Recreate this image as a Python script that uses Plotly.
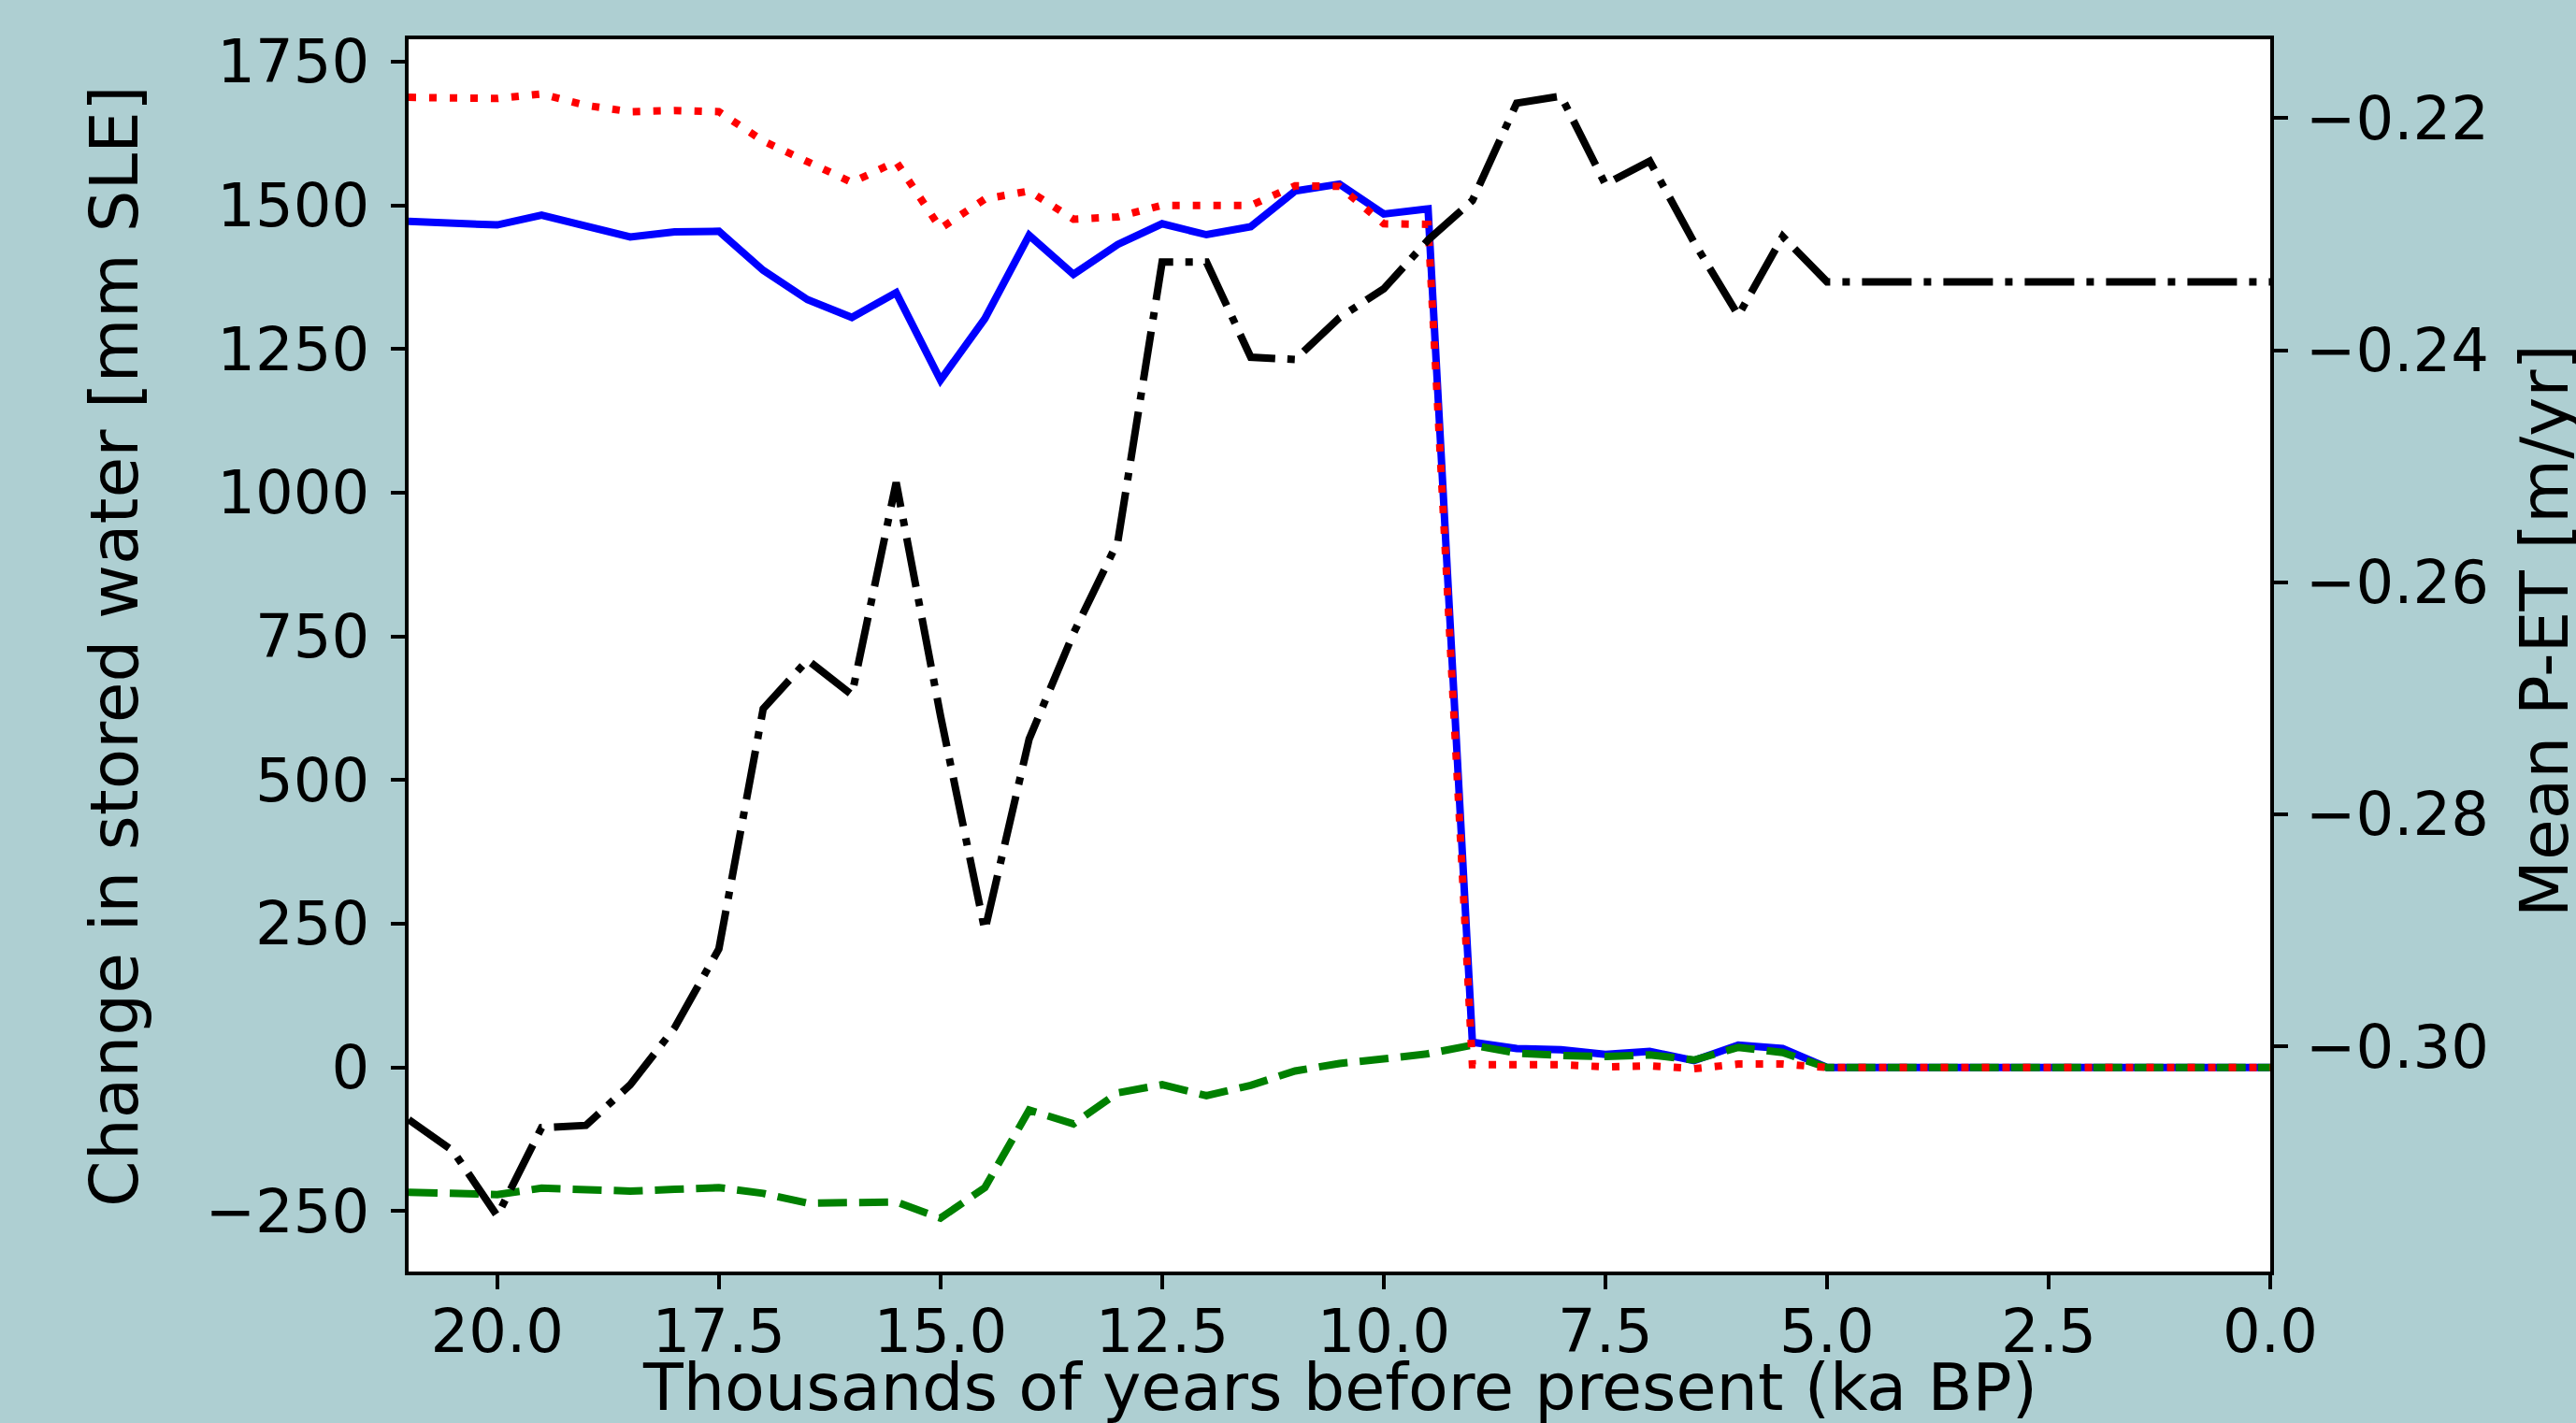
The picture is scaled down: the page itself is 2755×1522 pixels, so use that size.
import plotly.graph_objects as go

# ka BP, every 0.5 ka from 21 to 0
ka = [21.0, 20.5, 20.0, 19.5, 19.0, 18.5, 18.0, 17.5, 17.0, 16.5, 16.0, 15.5, 15.0,
      14.5, 14.0, 13.5, 13.0, 12.5, 12.0, 11.5, 11.0, 10.5, 10.0, 9.5, 9.0, 8.5,
      8.0, 7.5, 7.0, 6.5, 6.0, 5.5, 5.0, 4.5, 4.0, 3.5, 3.0, 2.5, 2.0, 1.5, 1.0,
      0.5, 0.0]

# Change in stored water [mm SLE]
blue_total = [1472, 1470, 1466, 1483, 1463, 1445, 1454, 1455, 1387, 1336, 1305, 1348, 1196,
              1303, 1448, 1380, 1432, 1468, 1449, 1463, 1525, 1537, 1485, 1494, 44, 33,
              31, 23, 28, 12, 39, 33, 0, 0, 0, 0, 0, 0, 0, 0, 0,
              0, 0]
green_dashed = [-217, -218, -221, -210, -211, -215, -212, -209, -219, -236, -235, -234, -262,
                -209, -74, -98, -44, -30, -49, -31, -6, 7, 15, 24, 39, 25,
                21, 19, 22, 13, 35, 26, 0, 0, 0, 0, 0, 0, 0, 0, 0,
                0, 0]
red_dotted = [1688, 1687, 1686, 1694, 1674, 1663, 1665, 1663, 1612, 1576, 1540, 1576, 1460,
              1511, 1525, 1476, 1480, 1500, 1500, 1500, 1534, 1533, 1468, 1467, 5, 5,
              5, 1, 3, -2, 6, 6, 0, 0, 0, 0, 0, 0, 0, 0, 0,
              0, 0]
# Mean P-ET [m/yr]
black_pet = [-0.3063, -0.3090, -0.3146, -0.3070, -0.3068, -0.3033, -0.2984, -0.2916, -0.2709,
             -0.2667, -0.2697, -0.2514, -0.2715, -0.2900, -0.2735, -0.2644, -0.2565, -0.2324,
             -0.2324, -0.2406, -0.2408, -0.2372, -0.2347, -0.2305, -0.2271, -0.2187, -0.2181,
             -0.2257, -0.2237, -0.2307, -0.2370, -0.2302, -0.2341, -0.2341, -0.2341, -0.2341,
             -0.2341, -0.2341, -0.2341, -0.2341, -0.2341, -0.2341, -0.2341]

x_ticks = [20.0, 17.5, 15.0, 12.5, 10.0, 7.5, 5.0, 2.5, 0.0]
y_ticks = [-250, 0, 250, 500, 750, 1000, 1250, 1500, 1750]
y2_ticks = [-0.30, -0.28, -0.26, -0.24, -0.22]

FONT = "DejaVu Sans"
LW = 8

fig = go.Figure()
fig.add_trace(go.Scatter(x=ka, y=blue_total, mode="lines",
                         line=dict(color="#0000ff", width=LW)))
fig.add_trace(go.Scatter(x=ka, y=green_dashed, mode="lines",
                         line=dict(color="#008000", width=LW, dash="31px,13px")))
fig.add_trace(go.Scatter(x=ka, y=red_dotted, mode="lines",
                         line=dict(color="#ff0000", width=LW, dash="8px,14px")))
fig.add_trace(go.Scatter(x=ka, y=black_pet, mode="lines", yaxis="y2",
                         line=dict(color="#000000", width=LW, dash="53px,13px,8px,13px")))

tickfont = dict(family=FONT, size=64, color="black")
fig.update_layout(
    width=2755, height=1522,
    paper_bgcolor="#aecfd2",
    plot_bgcolor="white",
    showlegend=False,
    margin=dict(l=437, r=327, t=42, b=162),
    font=dict(family=FONT, color="black"),
    xaxis=dict(range=[21, 0], tickvals=x_ticks, ticktext=[f"{v:.1f}" for v in x_ticks],
               showgrid=False, zeroline=False, showline=True, linecolor="black",
               linewidth=4, mirror=True, ticks="outside", ticklen=15, tickwidth=4,
               tickcolor="black", tickfont=tickfont, ticklabelstandoff=-10,
               automargin=False),
    yaxis=dict(range=[-355, 1789], tickvals=y_ticks,
               ticktext=[str(v).replace("-", "\u2212") for v in y_ticks],
               showgrid=False, zeroline=False, showline=True, linecolor="black",
               linewidth=4, mirror=True, ticks="outside", ticklen=15, tickwidth=4,
               tickcolor="black", tickfont=tickfont, ticklabelstandoff=10,
               automargin=False),
    yaxis2=dict(range=[-0.3194, -0.2132], tickvals=y2_ticks,
                ticktext=[f"{v:.2f}".replace("-", "\u2212") for v in y2_ticks],
                overlaying="y", side="right", showgrid=False, zeroline=False,
                showline=True, linecolor="black", linewidth=4,
                ticks="outside", ticklen=15, tickwidth=4, tickcolor="black",
                tickfont=tickfont, ticklabelstandoff=6, automargin=False),
    annotations=[
        dict(text="Thousands of years before present (ka BP)", xref="paper", yref="paper",
             x=0.5, y=-0.094, xanchor="center", yanchor="middle", showarrow=False,
             font=dict(family=FONT, size=70, color="black")),
        dict(text="Change in stored water [mm SLE]", xref="paper", yref="paper",
             x=-0.158, y=0.508, xanchor="center", yanchor="middle", showarrow=False,
             textangle=-90, font=dict(family=FONT, size=71, color="black")),
        dict(text="Mean P-ET [m/yr]", xref="paper", yref="paper",
             x=1.1475, y=0.52, xanchor="center", yanchor="middle", showarrow=False,
             textangle=-90, font=dict(family=FONT, size=71, color="black")),
    ],
)

fig.write_html("out.html", config={"displayModeBar": False},
               post_script="document.body.style.margin='0px';")
